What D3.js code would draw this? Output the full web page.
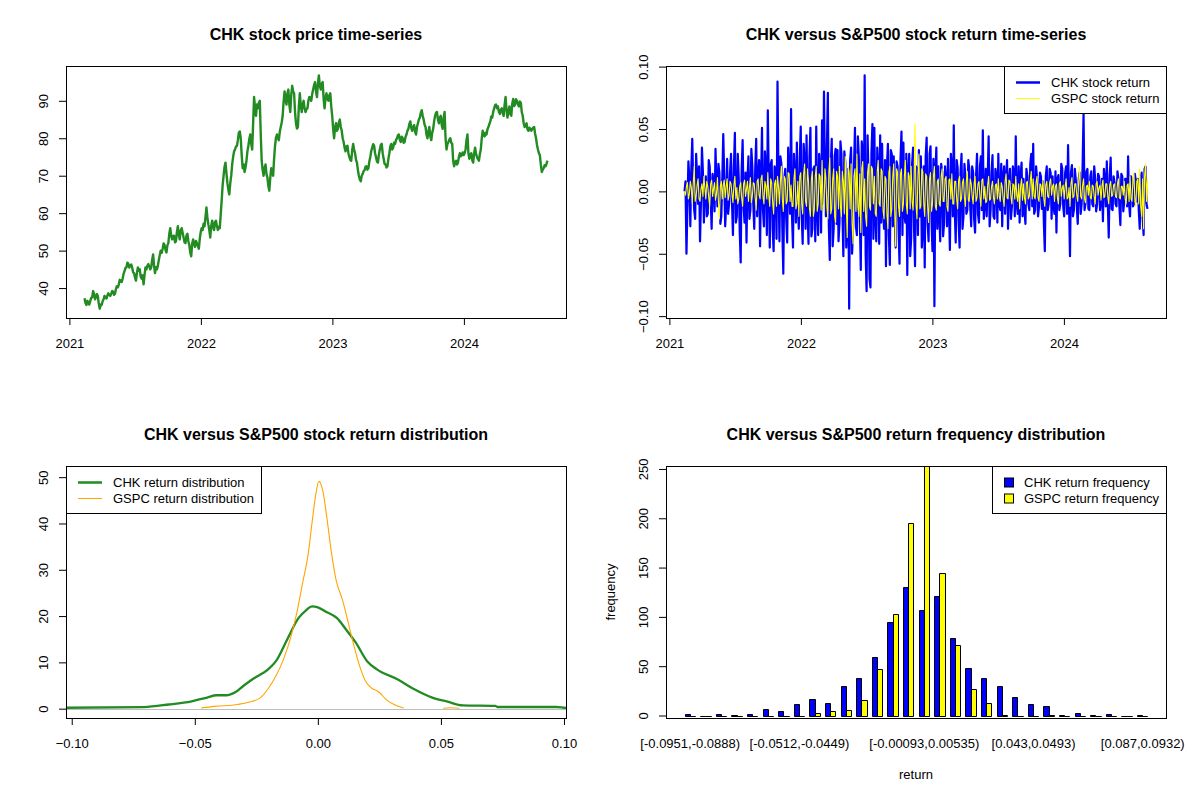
<!DOCTYPE html>
<html>
<head>
<meta charset="utf-8">
<script src="https://cdnjs.cloudflare.com/ajax/libs/d3/7.8.5/d3.min.js"></script>
<style>
  body { margin: 0; background: #fff; }
  svg { display: block; }
</style>
</head>
<body>
<svg id="chart" width="1200" height="800"></svg>
<script>
// ---- data ----
const seriesStart = new Date(2021, 1, 12);
const seriesEnd = new Date(2024, 7, 20);
const yearTicks = [2021, 2022, 2023, 2024];

// CHK closing price, sampled about every other trading day
const chkPrice = [
  37.3,36.0,35.5,36.6,36.0,35.6,36.5,37.4,37.5,39.2,38.5,37.0,37.5,38.4,37.8,35.8,34.5,35.6,35.5,36.5,
  37.0,37.9,37.5,37.2,38.0,38.6,38.2,37.9,38.5,39.2,39.0,38.2,38.5,39.8,40.5,40.2,41.0,42.2,42.0,41.6,
  42.5,43.8,44.5,45.4,45.5,46.8,46.5,45.5,46.0,46.3,45.5,44.2,44.0,42.8,42.0,44.0,45.5,44.6,45.0,43.0,
  42.5,43.4,41.0,43.5,45.5,45.0,46.0,46.4,45.8,45.0,45.5,47.5,49.0,46.0,44.0,45.6,45.0,46.0,47.5,48.8,
  50.0,49.4,50.5,51.9,51.5,50.2,49.5,51.4,52.0,54.5,56.0,54.0,53.0,53.9,54.0,52.2,52.5,55.0,56.5,54.2,
  53.0,55.4,56.0,54.8,53.5,52.2,52.0,54.0,54.5,52.5,51.5,49.5,48.5,51.8,53.0,51.8,51.0,52.6,52.0,51.2,
  50.5,53.2,55.0,56.0,55.5,57.2,56.5,59.0,61.5,58.8,57.0,55.5,53.5,56.6,58.0,56.2,55.5,57.6,58.0,56.5,
  55.5,56.4,56.0,59.8,63.5,67.5,70.0,72.4,73.5,70.6,68.0,66.2,65.0,68.0,70.0,73.0,75.0,76.5,77.0,77.8,
  78.0,79.5,81.5,81.8,80.0,75.5,72.0,73.0,71.0,72.2,74.0,76.5,78.0,79.8,81.0,78.5,77.0,84.0,91.0,88.2,
  86.0,89.0,88.0,89.5,90.0,81.0,74.0,71.5,70.0,72.0,73.0,70.5,69.5,67.2,66.0,69.5,72.0,70.8,70.0,74.5,
  78.0,80.2,81.0,80.0,79.5,81.8,83.0,84.2,86.0,89.8,92.5,90.2,89.0,92.0,93.0,89.0,87.0,91.5,94.0,92.5,
  92.0,87.0,84.0,82.6,83.0,88.5,92.0,88.8,87.0,89.0,90.0,88.0,87.0,87.8,88.0,90.0,91.0,90.8,90.0,91.8,
  93.0,94.2,95.0,92.5,91.0,94.5,96.8,94.0,93.0,94.6,95.0,90.5,88.0,90.8,92.0,90.5,90.0,91.5,92.0,88.5,
  86.0,82.5,80.0,82.8,84.0,82.0,82.5,84.2,85.0,83.0,82.0,80.0,79.0,77.5,76.5,77.8,78.0,76.0,75.0,74.2,
  74.0,76.8,78.5,77.0,76.0,74.2,73.5,71.5,70.0,69.0,68.5,70.0,70.5,71.2,71.5,72.4,72.5,71.6,72.0,73.8,
  75.0,76.6,77.5,78.4,78.0,76.0,75.0,73.8,73.5,75.6,77.0,78.2,78.5,76.0,74.5,73.2,73.0,72.2,72.5,74.5,
  76.0,77.8,78.5,77.0,77.5,78.8,78.5,79.5,80.0,80.8,81.0,79.6,79.0,80.4,80.0,78.8,79.0,80.4,81.0,82.0,
  82.5,83.8,84.5,82.8,82.0,83.0,83.5,81.8,81.0,83.0,84.0,85.0,85.5,86.8,87.5,86.0,85.0,83.6,83.0,81.0,
  80.0,81.8,83.0,80.5,79.5,81.5,82.5,84.5,86.0,86.8,87.0,85.0,84.0,85.5,86.0,83.5,82.5,85.5,87.0,80.0,
  77.0,78.5,79.0,79.6,80.0,78.8,78.5,74.0,72.5,73.6,74.0,73.0,73.5,75.0,76.0,75.2,75.5,76.2,75.5,76.0,
  77.0,79.5,81.0,76.0,74.5,75.6,76.0,74.2,73.5,76.0,77.5,75.8,75.0,74.4,74.0,75.8,77.0,80.0,82.0,80.8,
  80.5,81.5,81.0,82.4,83.0,83.8,84.5,85.8,85.5,87.0,88.0,88.8,89.0,88.0,88.5,87.0,86.5,87.6,88.0,86.8,
  86.0,89.0,91.0,87.5,85.5,87.2,88.5,86.5,86.0,89.2,90.5,88.6,89.0,90.4,90.0,89.0,88.5,89.8,89.5,87.0,
  86.0,84.0,83.0,83.6,84.0,82.4,82.0,82.8,82.5,82.0,82.5,82.8,83.0,81.2,80.0,78.2,77.0,76.0,75.5,73.0,
  71.0,71.6,72.0,72.8,72.5,73.2,74.0];

// daily returns (sampled about every other trading day)
const chkReturn = [
  0.000,0.008,-0.050,-0.012,0.024,0.010,-0.028,0.018,0.042,0.005,-0.015,-0.022,0.030,0.012,-0.010,0.020,-0.040,-0.008,0.035,0.015,
  -0.025,0.006,0.012,-0.020,-0.018,0.025,0.020,-0.005,-0.030,0.014,0.008,-0.016,0.034,0.004,-0.012,0.022,0.015,-0.026,-0.020,0.010,
  0.046,0.012,-0.028,-0.010,0.026,-0.018,-0.010,0.015,0.030,-0.008,-0.035,0.020,0.047,-0.025,-0.020,0.030,0.010,-0.032,-0.057,0.018,
  0.041,-0.012,-0.025,0.015,-0.041,0.010,0.028,-0.022,-0.015,0.034,0.020,-0.010,-0.030,0.018,0.042,-0.020,0.012,0.025,-0.044,0.008,
  0.051,-0.015,-0.028,0.032,0.020,-0.035,0.065,0.010,-0.045,0.022,0.025,-0.030,-0.048,0.020,0.015,-0.038,0.088,0.012,-0.040,0.028,
  0.022,-0.030,-0.066,0.010,0.018,-0.022,-0.041,0.035,0.012,-0.018,0.066,-0.020,-0.045,0.030,0.015,-0.025,0.039,-0.012,-0.030,0.026,
  0.052,-0.020,-0.042,0.038,0.025,-0.030,0.045,-0.012,-0.042,0.028,0.051,-0.036,-0.030,0.018,0.020,-0.040,0.052,-0.015,-0.035,0.030,
  0.015,-0.033,0.057,-0.010,0.080,0.012,-0.020,0.036,0.079,-0.028,-0.055,0.020,0.042,-0.044,-0.030,0.028,0.034,-0.026,0.033,-0.040,
  -0.025,0.040,0.030,-0.015,-0.052,0.032,0.023,-0.045,-0.020,0.018,-0.094,0.025,0.035,-0.050,-0.030,0.020,0.051,-0.028,-0.035,0.044,
  0.027,-0.022,-0.063,0.040,0.030,-0.035,0.093,-0.050,-0.080,0.045,0.010,-0.070,-0.077,0.030,0.054,-0.038,0.051,-0.020,-0.040,0.035,
  0.020,-0.042,0.045,-0.025,0.038,-0.015,-0.030,0.025,-0.060,0.020,0.038,-0.036,-0.059,0.033,0.030,-0.028,0.028,-0.020,-0.045,0.024,
  0.020,-0.030,-0.058,0.026,0.048,-0.035,0.039,-0.018,-0.025,0.030,-0.067,0.015,0.030,-0.052,-0.038,0.022,0.035,-0.030,-0.060,0.020,
  0.018,-0.035,0.033,-0.020,0.028,-0.045,-0.030,0.020,-0.061,0.028,0.043,-0.025,-0.040,0.030,0.036,-0.022,-0.048,0.026,-0.092,0.015,
  0.035,-0.030,0.020,-0.018,-0.040,0.022,0.015,-0.036,-0.025,0.020,0.010,-0.028,0.026,-0.012,-0.047,0.030,0.018,-0.020,0.053,-0.015,
  -0.041,0.025,0.019,-0.025,-0.045,0.015,0.030,-0.030,-0.020,0.022,0.012,-0.018,-0.015,0.025,0.018,-0.012,-0.028,0.020,0.015,-0.022,
  -0.033,0.012,0.030,-0.018,-0.025,0.020,0.028,-0.015,0.049,-0.022,-0.010,0.018,-0.020,0.010,0.044,-0.028,-0.015,0.015,0.029,-0.020,
  -0.022,0.018,0.012,-0.025,0.030,-0.010,-0.015,0.022,-0.028,0.012,0.020,-0.018,0.010,0.025,-0.030,0.008,0.018,-0.022,-0.012,0.020,
  0.015,-0.020,0.044,-0.010,-0.018,0.020,-0.025,0.012,0.023,-0.020,0.010,-0.015,-0.026,0.018,0.012,-0.010,-0.015,0.022,0.030,-0.012,
  0.038,-0.018,-0.015,0.020,0.010,-0.020,-0.012,0.015,0.012,-0.014,0.008,-0.025,-0.048,0.012,0.020,-0.015,-0.010,0.018,0.015,-0.022,
  0.012,-0.012,-0.018,0.016,-0.033,0.010,0.013,-0.015,-0.010,0.022,0.018,-0.012,-0.020,0.015,0.020,-0.018,0.037,-0.010,-0.052,0.015,
  0.021,-0.020,-0.015,0.018,0.009,-0.012,-0.026,0.010,0.015,-0.018,-0.010,0.020,0.063,-0.015,-0.010,0.016,0.018,-0.014,-0.015,0.012,
  0.016,-0.010,-0.012,0.020,0.010,-0.016,-0.010,0.014,0.012,-0.015,-0.008,0.010,-0.024,0.018,0.010,-0.012,0.024,-0.008,-0.037,0.012,
  0.027,-0.014,-0.015,0.012,0.007,-0.010,-0.012,0.016,0.010,-0.012,-0.027,0.014,0.012,-0.016,-0.008,0.010,0.010,-0.012,0.028,-0.010,
  -0.020,0.012,0.008,-0.012,-0.010,0.014,0.007,-0.008,0.010,-0.015,-0.030,0.012,0.015,-0.020,-0.035,0.018,0.020,-0.010,-0.014];

const gspcReturn = [
  0.000,-0.003,0.004,0.007,-0.006,-0.002,0.008,0.003,-0.010,0.006,0.020,-0.008,-0.004,0.005,0.010,-0.006,-0.008,0.002,0.006,-0.004,
  0.012,0.003,-0.006,0.008,0.004,-0.005,-0.012,0.006,0.009,-0.004,0.002,0.007,-0.007,-0.002,0.011,-0.008,-0.022,0.004,0.008,-0.006,
  0.005,0.009,-0.005,0.004,0.010,-0.007,-0.003,0.008,0.006,-0.002,-0.009,0.005,0.012,-0.006,0.003,-0.010,-0.006,0.004,0.007,-0.005,
  -0.012,0.006,0.009,-0.004,0.002,0.008,-0.008,0.003,0.011,-0.009,-0.004,0.007,0.006,-0.005,-0.015,0.008,0.010,-0.003,-0.006,0.010,
  0.013,-0.004,-0.010,0.008,0.004,-0.006,0.015,-0.003,-0.012,0.010,0.007,-0.009,-0.018,0.006,0.009,-0.012,0.012,0.004,-0.010,0.008,
  0.020,-0.006,-0.016,0.012,0.010,-0.010,-0.008,0.015,0.014,-0.008,0.005,-0.012,-0.012,0.010,0.018,-0.014,-0.010,0.008,-0.020,0.012,
  0.015,-0.010,-0.018,0.014,0.022,-0.008,-0.012,0.018,0.008,-0.014,-0.020,0.010,0.016,-0.020,-0.015,0.012,0.020,-0.016,-0.010,0.014,
  0.012,-0.015,0.025,-0.010,-0.016,0.018,0.010,-0.012,-0.022,0.015,0.027,-0.018,-0.014,0.010,0.018,-0.020,-0.025,0.016,0.012,-0.014,
  0.020,-0.012,-0.020,0.016,0.008,-0.018,0.028,-0.010,-0.037,0.020,0.015,-0.014,0.022,-0.025,-0.042,0.012,0.018,-0.016,0.030,-0.012,
  -0.020,0.014,-0.033,0.018,0.024,-0.016,0.010,-0.020,-0.028,0.015,0.022,-0.012,-0.015,0.020,0.018,-0.010,0.012,-0.018,-0.020,0.016,
  0.025,-0.010,-0.012,0.018,0.016,-0.015,-0.022,0.012,0.010,-0.018,-0.030,0.015,0.020,-0.020,-0.014,0.012,0.022,-0.016,-0.044,0.018,
  0.015,-0.012,-0.020,0.014,0.018,-0.016,-0.010,0.012,0.025,-0.010,-0.018,0.015,0.012,-0.014,0.020,-0.008,-0.015,0.010,0.054,-0.010,
  -0.022,0.012,0.030,-0.014,-0.012,0.018,0.016,-0.010,-0.020,0.014,0.012,-0.012,-0.025,0.010,0.015,-0.016,-0.010,0.012,0.020,-0.012,
  -0.015,0.008,0.010,-0.010,-0.012,0.012,0.018,-0.008,-0.008,0.010,0.012,-0.012,-0.016,0.009,0.010,-0.006,0.014,-0.010,-0.010,0.008,
  0.008,-0.006,-0.014,0.009,0.012,-0.008,-0.006,0.007,0.010,-0.005,-0.012,0.008,0.016,-0.007,-0.008,0.010,0.006,-0.004,-0.010,0.006,
  0.012,-0.008,-0.005,0.006,0.008,-0.004,-0.012,0.009,0.010,-0.006,0.004,-0.009,-0.008,0.005,0.012,-0.007,-0.006,0.004,0.008,-0.005,
  -0.010,0.005,0.006,-0.006,0.010,-0.004,-0.008,0.007,0.004,-0.006,-0.012,0.008,0.014,-0.005,-0.006,0.009,0.008,-0.004,-0.010,0.006,
  0.005,-0.006,0.012,-0.003,-0.008,0.006,-0.014,0.004,0.010,-0.007,0.006,-0.005,-0.010,0.007,0.008,-0.006,-0.004,0.008,0.016,-0.006,
  0.010,-0.004,-0.006,0.007,0.012,-0.005,-0.008,0.006,0.005,-0.004,0.009,-0.006,-0.012,0.005,0.008,-0.004,-0.005,0.007,0.010,-0.003,
  0.004,0.006,-0.008,0.004,0.006,-0.005,-0.010,0.006,0.008,-0.004,0.003,0.005,-0.006,0.004,0.010,-0.006,-0.005,0.003,-0.012,0.006,
  0.011,-0.005,-0.004,0.006,0.006,-0.003,-0.008,0.008,0.020,-0.004,-0.006,0.005,0.010,-0.006,-0.009,0.004,0.005,-0.003,0.008,-0.005,
  -0.006,0.005,0.004,-0.004,-0.010,0.006,0.008,-0.003,0.003,0.005,-0.007,0.004,0.009,-0.005,-0.004,0.006,0.006,-0.004,-0.010,0.005,
  0.008,-0.004,-0.003,0.005,0.006,-0.004,-0.005,0.006,0.010,-0.005,-0.006,0.004,0.004,-0.003,0.008,-0.006,-0.010,0.005,0.006,-0.008,
  0.012,-0.006,-0.008,0.010,0.015,-0.008,-0.012,0.008,0.010,-0.010,0.018,-0.012,-0.020,0.010,-0.030,0.012,0.022,-0.008,0.010];

// kernel density estimates (x, y)
const chkDensX = [-0.105,-0.1023,-0.0707,-0.0606,-0.0513,-0.045,-0.0412,-0.0373,-0.0334,-0.0303,-0.0264,
  -0.0202,-0.0171,-0.0125,-0.0078,-0.0047,-0.0024,0.0,0.0031,0.0077,0.0116,0.0155,0.0201,0.024,
  0.0325,0.0388,0.0465,0.0527,0.0589,0.0721,0.0729,0.097,0.1008,0.105];
const chkDensY = [0.2,0.2,0.35,0.9,1.6,2.4,2.9,2.9,3.6,4.9,6.4,
  8.5,10.2,14.9,19.6,21.3,22.1,21.9,21.0,19.6,17.0,14.2,10.2,8.5,
  6.3,4.3,2.4,1.5,0.7,0.6,0.36,0.36,0.15,0.15];
const gspcDensX = [-0.0474,-0.042,-0.0326,-0.028,-0.0233,-0.0202,-0.0171,-0.014,-0.0109,-0.0086,-0.0062,
  -0.0039,-0.0024,-0.0008,0.0004,0.002,0.0038,0.0054,0.0074,0.01,0.0124,0.0147,0.017,0.0194,
  0.0217,0.0248,0.0279,0.031,0.0349,0.036,0.0505,0.051,0.054,0.0575];
const gspcDensY = [0.15,0.5,0.9,1.4,2.4,4.3,7.0,10.6,15.6,20.6,27.1,
  33.5,40.0,46.4,49.1,47.1,40.7,34.2,27.8,23.5,18.5,13.5,9.2,5.9,
  4.5,3.6,1.9,0.9,0.15,null,null,0.1,0.2,0.1];
const densityXlim = [-0.0948, 0.0933];
const densityYlim = [0, 50.4];
const densityXTicks = [-0.10, -0.05, 0, 0.05, 0.10];
const densityYTicks = [0, 10, 20, 30, 40, 50];

// return frequency table (30 bins)
const binLabels = ["[-0.0951,-0.0888)","[-0.0888,-0.0825)","[-0.0825,-0.0763)","[-0.0763,-0.07)","[-0.07,-0.0637)",
  "[-0.0637,-0.0574)","[-0.0574,-0.0512)","[-0.0512,-0.0449)","[-0.0449,-0.0386)","[-0.0386,-0.0323)",
  "[-0.0323,-0.0261)","[-0.0261,-0.0198)","[-0.0198,-0.0135)","[-0.0135,-0.00721)","[-0.00721,-0.00093)",
  "[-0.00093,0.00535)","[0.00535,0.0116)","[0.0116,0.0179)","[0.0179,0.0242)","[0.0242,0.0305)",
  "[0.0305,0.0367)","[0.0367,0.043)","[0.043,0.0493)","[0.0493,0.0556)","[0.0556,0.0619)",
  "[0.0619,0.0681)","[0.0681,0.0744)","[0.0744,0.0807)","[0.0807,0.087)","[0.087,0.0932)"];
const chkFreq = [2,0,2,1,2,7,5,12,17,13,30,38,59,95,130,107,121,79,48,38,30,19,12,10,1,3,1,2,0,1];
const gspcFreq = [0,0,0,0,0,0,0,0,3,5,6,16,47,103,195,253,145,71,27,13,1,0,0,1,0,0,0,0,0,0];
const shownBins = [0, 7, 15, 22, 29];   // labels R had room to print
const freqTicks = [0, 50, 100, 150, 200, 250];
const priceTicks = [40, 50, 60, 70, 80, 90];
const returnTicks = [-0.10, -0.05, 0, 0.05, 0.10];

// ---- drawing ----
const FONT = '"Liberation Sans", Arial, Helvetica, sans-serif';
const box = { left: 66, right: 566, top: 66, bottom: 318 };
const svg = d3.select("#chart");
svg.append("rect").attr("width", 1200).attr("height", 800).attr("fill", "#fff");

// R pads axis ranges by 4% on each side
function rPad(ext, f = 0.04) {
  const a = +ext[0], b = +ext[1], d = b - a;
  return [a - f * d, b + f * d];
}

let clipCount = 0;
function panel(px, py, title) {
  const g = svg.append("g").attr("transform", `translate(${px},${py})`);
  const id = "clip" + (clipCount++);
  g.append("clipPath").attr("id", id).append("rect")
    .attr("x", box.left).attr("y", box.top)
    .attr("width", box.right - box.left).attr("height", box.bottom - box.top);
  g.append("text").attr("x", (box.left + box.right) / 2).attr("y", 40)
    .attr("text-anchor", "middle").attr("font-family", FONT)
    .attr("font-size", 16).attr("font-weight", "bold").text(title);
  g.clip = `url(#${id})`;
  return g;
}

function drawBox(g) {
  g.append("rect").attr("x", box.left + 0.5).attr("y", box.top + 0.5)
    .attr("width", box.right - box.left).attr("height", box.bottom - box.top)
    .attr("fill", "none").attr("stroke", "#000").attr("stroke-width", 1);
}

function styleAxis(a) {
  a.attr("font-family", FONT).attr("font-size", 13);
  a.select(".domain").remove();
  a.selectAll(".tick line").attr("stroke", "#000");
  a.selectAll(".tick text").attr("fill", "#000");
}

function bottomAxis(g, scale, ticks, fmt, tickLen = 7) {
  const a = g.append("g").attr("transform", `translate(0,${box.bottom})`)
    .call(d3.axisBottom(scale).tickValues(ticks).tickFormat(fmt).tickSize(tickLen).tickSizeOuter(0));
  styleAxis(a);
  a.selectAll(".tick text").attr("y", 30).attr("dy", null);
  return a;
}

function leftAxis(g, scale, ticks, fmt) {
  const a = g.append("g").attr("transform", `translate(${box.left},0)`)
    .call(d3.axisLeft(scale).tickValues(ticks).tickFormat(fmt).tickSize(7).tickSizeOuter(0));
  styleAxis(a);
  a.selectAll(".tick text").attr("transform", "rotate(-90)")
    .attr("x", 0).attr("y", -18).attr("dy", null).attr("text-anchor", "middle");
  return a;
}

// legend in R style: kind "line" or "fill"
function legend(g, anchorX, top, alignRight, items, kind) {
  const lg = g.append("g");
  const bg = lg.append("rect");
  const texts = items.map(it => lg.append("text").attr("font-family", FONT)
    .attr("font-size", 13).text(it.label));
  const tw = d3.max(texts, t => t.node().getComputedTextLength());
  const textOff = kind === "line" ? 47 : 32;
  const w = Math.round(textOff + tw + 7), h = 47;
  const left = alignRight ? anchorX - w : anchorX;
  bg.attr("x", left + 0.5).attr("y", top + 0.5).attr("width", w).attr("height", h)
    .attr("fill", "#fff").attr("stroke", "#000");
  items.forEach((it, i) => {
    const cy = top + 16.5 + i * 16;
    if (kind === "line") {
      lg.append("line").attr("x1", left + 12).attr("x2", left + 36)
        .attr("y1", cy).attr("y2", cy).attr("stroke", it.color).attr("stroke-width", it.width);
    } else {
      lg.append("rect").attr("x", left + 12.5).attr("y", cy - 4.5).attr("width", 9).attr("height", 9)
        .attr("fill", it.color).attr("stroke", "#000");
    }
    texts[i].attr("x", left + textOff).attr("y", cy + 4.5);
  });
}

// dates for the sampled series, evenly spread over the trading period
const dateAt = n => i => d3.interpolateDate(seriesStart, seriesEnd)(i / (n - 1));
const priceDates = chkPrice.map((_, i) => dateAt(chkPrice.length)(i));
const returnDates = chkReturn.map((_, i) => dateAt(chkReturn.length)(i));
const timeX = d3.scaleTime().domain(rPad([seriesStart, seriesEnd]).map(t => new Date(t)))
  .range([box.left, box.right]);
const yearDates = yearTicks.map(y => new Date(y, 0, 1));

// Panel 1: price
{
  const g = panel(0, 0, "CHK stock price time-series");
  const y = d3.scaleLinear().domain(rPad(d3.extent(chkPrice))).range([box.bottom, box.top]);
  const line = d3.line().x((d, i) => timeX(priceDates[i])).y(d => y(d));
  g.append("path").datum(chkPrice).attr("clip-path", g.clip).attr("d", line)
    .attr("fill", "none").attr("stroke", "#228B22").attr("stroke-width", 2.4)
    .attr("stroke-linejoin", "round");
  drawBox(g);
  bottomAxis(g, timeX, yearDates, d3.timeFormat("%Y"));
  leftAxis(g, y, priceTicks, d3.format("d"));
}

// Panel 2: returns
{
  const g = panel(600, 0, "CHK versus S&P500 stock return time-series");
  const y = d3.scaleLinear().domain(rPad(d3.extent(chkReturn))).range([box.bottom, box.top]);
  const line = d3.line().x((d, i) => timeX(returnDates[i])).y(d => y(d));
  g.append("path").datum(chkReturn).attr("clip-path", g.clip).attr("d", line)
    .attr("fill", "none").attr("stroke", "#0000FF").attr("stroke-width", 2.2)
    .attr("stroke-linejoin", "round");
  g.append("path").datum(gspcReturn).attr("clip-path", g.clip).attr("d", line)
    .attr("fill", "none").attr("stroke", "#FFFF00").attr("stroke-width", 1.1)
    .attr("stroke-linejoin", "round");
  legend(g, box.right, box.top, true, [
    { label: "CHK stock return", color: "#0000FF", width: 2.5 },
    { label: "GSPC stock return", color: "#FFFF00", width: 1 }], "line");
  drawBox(g);
  bottomAxis(g, timeX, yearDates, d3.timeFormat("%Y"));
  leftAxis(g, y, returnTicks, d3.format(".2f"));
}

// Panel 3: density
{
  const g = panel(0, 400, "CHK versus S&P500 stock return distribution");
  const x = d3.scaleLinear().domain(rPad(densityXlim)).range([box.left, box.right]);
  const y = d3.scaleLinear().domain(rPad(densityYlim)).range([box.bottom, box.top]);
  const chkLine = d3.line().x((d, i) => x(chkDensX[i])).y(d => y(d)).curve(d3.curveMonotoneX);
  const gspcLine = d3.line().defined(d => d != null)
    .x((d, i) => x(gspcDensX[i])).y(d => y(d)).curve(d3.curveMonotoneX);
  g.append("path").datum(chkDensY).attr("clip-path", g.clip).attr("d", chkLine)
    .attr("fill", "none").attr("stroke", "#228B22").attr("stroke-width", 2.3);
  g.append("path").datum(gspcDensY).attr("clip-path", g.clip).attr("d", gspcLine)
    .attr("fill", "none").attr("stroke", "#FFA500").attr("stroke-width", 1.1);
  g.append("line").attr("x1", box.left).attr("x2", box.right)
    .attr("y1", Math.round(y(0)) + 0.5).attr("y2", Math.round(y(0)) + 0.5)
    .attr("stroke", "#BEBEBE").attr("stroke-width", 1);
  legend(g, box.left, box.top, false, [
    { label: "CHK return distribution", color: "#228B22", width: 2.5 },
    { label: "GSPC return distribution", color: "#FFA500", width: 1 }], "line");
  drawBox(g);
  bottomAxis(g, x, densityXTicks, d3.format(".2f"));
  leftAxis(g, y, densityYTicks, d3.format("d"));
}

// Panel 4: grouped frequency bars
{
  const g = panel(600, 400, "CHK versus S&P500 return frequency distribution");
  const nb = binLabels.length;
  const x = d3.scaleLinear().domain(rPad([1, 3 * nb])).range([box.left, box.right]);
  const top = d3.max(gspcFreq.concat(chkFreq));
  const y = d3.scaleLinear().domain([-0.01 * top, top]).range([box.bottom, box.top]);
  const barPath = (x0, x1, v) => {
    const a = Math.round(x(x0)) + 0.5, b = Math.round(x(x1)) + 0.5;
    const y0 = Math.round(y(0)) + 0.5, y1 = Math.round(y(v)) + 0.5;
    return `M${a},${y0}H${b}V${y1}H${a}Z`;
  };
  const series = [{ vals: chkFreq, color: "#0000FF", off: 1 }, { vals: gspcFreq, color: "#FFFF00", off: 2 }];
  series.forEach(s => {
    g.append("g").selectAll("path").data(s.vals).join("path")
      .attr("d", (v, k) => barPath(3 * k + s.off, 3 * k + s.off + 1, v))
      .attr("fill", s.color).attr("stroke", "#000").attr("stroke-width", 1);
  });
  legend(g, box.right, box.top, true, [
    { label: "CHK return frequency", color: "#0000FF" },
    { label: "GSPC return frequency", color: "#FFFF00" }], "fill");
  drawBox(g);
  const xa = bottomAxis(g, x, shownBins.map(k => 3 * k + 2), v => binLabels[(v - 2) / 3], 0);
  xa.selectAll(".tick line").remove();
  leftAxis(g, y, freqTicks, d3.format("d"));
  g.append("text").attr("x", (box.left + box.right) / 2).attr("y", 379)
    .attr("text-anchor", "middle").attr("font-family", FONT).attr("font-size", 13).text("return");
  g.append("text").attr("transform", `translate(15,${(box.top + box.bottom) / 2}) rotate(-90)`)
    .attr("text-anchor", "middle").attr("font-family", FONT).attr("font-size", 13).text("frequency");
}
</script>
</body>
</html>
